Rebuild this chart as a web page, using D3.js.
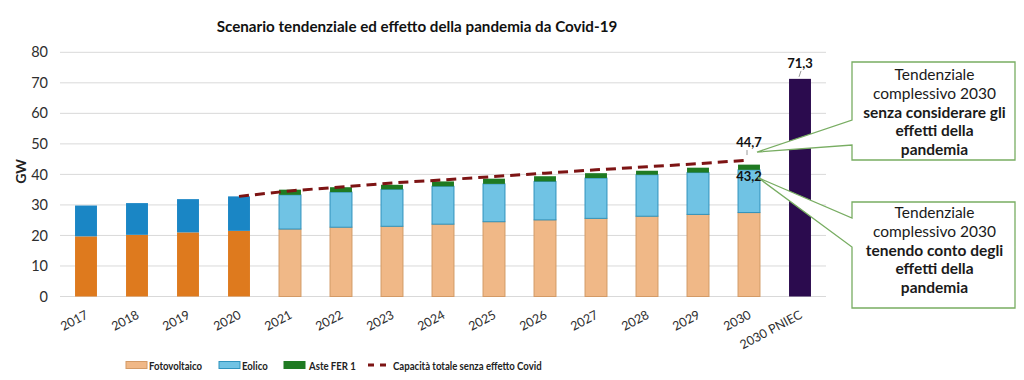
<!DOCTYPE html>
<html>
<head>
<meta charset="utf-8">
<script src="https://cdn.jsdelivr.net/npm/d3@7"></script>
<style>
  html, body { margin: 0; padding: 0; background: #ffffff; }
  svg { display: block; font-family: Lato, "Open Sans", sans-serif; }
</style>
</head>
<body>
<svg id="chart" width="1024" height="380"></svg>
<script>
// ---- data ----
const categories = ["2017","2018","2019","2020","2021","2022","2023","2024","2025","2026","2027","2028","2029","2030","2030 PNIEC"];
const historicalYears = ["2017","2018","2019","2020"];
const fotovoltaico = [19.7, 20.2, 21.0, 21.5, 22.1, 22.7, 23.0, 23.7, 24.5, 25.1, 25.6, 26.3, 26.9, 27.5, null];
const eolico       = [10.1, 10.4, 10.9, 11.3, 11.2, 11.5, 12.1, 12.4, 12.4, 12.6, 13.2, 13.6, 13.7, 14.0, null];
const asteFer1     = [0, 0, 0, 0, 1.7, 1.6, 1.5, 1.6, 1.7, 1.7, 1.6, 1.3, 1.6, 1.7, null];
const pniec        = [null, null, null, null, null, null, null, null, null, null, null, null, null, null, 71.3];
const lineYears    = ["2020","2021","2022","2023","2024","2025","2026","2027","2028","2029","2030"];
const senzaCovid   = [32.8, 34.6, 35.9, 37.2, 38.2, 39.3, 40.4, 41.5, 42.5, 43.5, 44.7];
const yTicks = [0, 10, 20, 30, 40, 50, 60, 70, 80];
const title = "Scenario tendenziale ed effetto della pandemia da Covid-19";
const yTitle = "GW";
const legendItems = ["Fotovoltaico", "Eolico", "Aste FER 1", "Capacità totale senza effetto Covid"];
const callout1 = [["Tendenziale", false], ["complessivo 2030", false], ["senza considerare gli", true], ["effetti della", true], ["pandemia", true]];
const callout2 = [["Tendenziale", false], ["complessivo 2030", false], ["tenendo conto degli", true], ["effetti della", true], ["pandemia", true]];

// ---- styles ----
const C = {
  fvHist: "#de7a1e", fvProj: "#f0b887", fvProjStroke: "#d39a66",
  eoHist: "#1a86c5", eoProj: "#70c3e4", eoProjStroke: "#2f93bd",
  aste: "#1f7a22", pniec: "#2b0b4e", line: "#7d1414",
  grid: "#d9d9d9", text: "#2e2e2e", box: "#78ad62"
};
const fmt = v => d3.format(".1f")(v).replace(".", ",");

const svg = d3.select("#chart");
const x = d3.scaleBand().domain(categories).range([60.5, 825.5]).paddingInner(0.57).paddingOuter(0.285);
const y = d3.scaleLinear().domain([0, 80]).range([296.5, 52.3]);

// title
svg.append("text").attr("x", 417).attr("y", 32).attr("text-anchor", "middle")
  .attr("font-size", 15.2).attr("font-weight", "bold").attr("fill", "#111").text(title);

// grid
svg.append("g").selectAll("line").data(yTicks).join("line")
  .attr("x1", 60).attr("x2", 826).attr("y1", d => y(d)).attr("y2", d => y(d))
  .attr("stroke", C.grid).attr("stroke-width", 1);

// y axis
const yAxis = svg.append("g").attr("transform", "translate(60,0)")
  .call(d3.axisLeft(y).tickValues(yTicks).tickSize(0).tickPadding(12));
yAxis.select(".domain").remove();
yAxis.selectAll("text").attr("font-size", 14.5).attr("fill", C.text).attr("font-family", "Lato");

svg.append("text").attr("transform", `translate(26,${y(41)}) rotate(-90)`)
  .attr("text-anchor", "middle").attr("font-size", 14).attr("font-weight", "bold").attr("fill", "#222").text(yTitle);

// x axis
const xAxis = svg.append("g").attr("transform", `translate(0,${y(0)})`)
  .call(d3.axisBottom(x).tickSize(0).tickPadding(0));
xAxis.select(".domain").remove();
xAxis.selectAll("text").attr("font-size", 12.5).attr("fill", C.text).attr("font-family", "Lato")
  .attr("text-anchor", "end").attr("dy", 0)
  .attr("transform", `translate(3,21) rotate(-28)`);

// bars
const rows = categories.map((c, i) => ({ c, fv: fotovoltaico[i], eo: eolico[i], as: asteFer1[i], pn: pniec[i], hist: historicalYears.includes(c) }));
const bars = svg.append("g");
rows.forEach(r => {
  const bx = x(r.c), bw = x.bandwidth();
  if (r.pn != null) {
    bars.append("rect").attr("x", bx).attr("width", bw).attr("y", y(r.pn)).attr("height", y(0) - y(r.pn)).attr("fill", C.pniec);
    return;
  }
  bars.append("rect").attr("x", bx).attr("width", bw).attr("y", y(r.fv)).attr("height", y(0) - y(r.fv))
    .attr("fill", r.hist ? C.fvHist : C.fvProj).attr("stroke", r.hist ? "none" : C.fvProjStroke).attr("stroke-width", 1);
  bars.append("rect").attr("x", bx).attr("width", bw).attr("y", y(r.fv + r.eo)).attr("height", y(r.fv) - y(r.fv + r.eo))
    .attr("fill", r.hist ? C.eoHist : C.eoProj).attr("stroke", r.hist ? "none" : C.eoProjStroke).attr("stroke-width", 1);
  if (r.as > 0) {
    bars.append("rect").attr("x", bx).attr("width", bw).attr("y", y(r.fv + r.eo + r.as)).attr("height", y(r.fv + r.eo) - y(r.fv + r.eo + r.as))
      .attr("fill", C.aste);
  }
});

// dashed line
const cx = c => x(c) + x.bandwidth() / 2;
const line = d3.line().x((d, i) => cx(lineYears[i])).y(d => y(d));
svg.append("path").datum(senzaCovid).attr("d", line).attr("fill", "none")
  .attr("stroke", C.line).attr("stroke-width", 3).attr("stroke-dasharray", "10,6");

// data labels
const lastIdx = categories.indexOf("2030");
const total2030 = fotovoltaico[lastIdx] + eolico[lastIdx] + asteFer1[lastIdx];
const end2030 = senzaCovid[senzaCovid.length - 1];
const pnVal = pniec[pniec.length - 1];
const lab = (tx, ty, t) => svg.append("text").attr("x", tx).attr("y", ty).attr("text-anchor", "middle")
  .attr("font-size", 13).attr("font-weight", "bold").attr("fill", "#111").text(t);
lab(cx("2030 PNIEC"), y(pnVal) - 11, fmt(pnVal));
svg.append("line").attr("x1", cx("2030 PNIEC") + 1).attr("x2", cx("2030 PNIEC") - 1)
  .attr("y1", y(pnVal) - 8).attr("y2", y(pnVal) - 2).attr("stroke", "#999");
lab(cx("2030"), y(end2030) - 13, fmt(end2030));
svg.append("line").attr("x1", cx("2030") - 2).attr("x2", cx("2030") - 2)
  .attr("y1", y(end2030) - 10).attr("y2", y(end2030) - 5).attr("stroke", "#999");
lab(cx("2030"), y(total2030) + 16, fmt(total2030));

// callouts
function callout(bx, by, bw, bh, b1, b2, tipX, tipY, lines, firstBaseline) {
  const p = `M${bx},${by} H${bx + bw} V${by + bh} H${bx} V${b2} L${tipX},${tipY} L${bx},${b1} Z`;
  svg.append("path").attr("d", p).attr("fill", "#fff").attr("stroke", C.box).attr("stroke-width", 1.3);
  lines.forEach(([t, bold], i) => {
    svg.append("text").attr("x", bx + bw / 2 + 1).attr("y", firstBaseline + i * 18.8).attr("text-anchor", "middle")
      .attr("font-size", 15.5).attr("font-weight", bold ? "bold" : "normal").attr("fill", "#1a1a1a").text(t);
  });
}
callout(852, 62, 163, 98, 120, 145, cx("2030") + 8, y(end2030) - 8, callout1, 80);
callout(852, 202, 163, 106, 218, 247, cx("2030") + 9, y(total2030) + 13, callout2, 218);

// legend
const lg = svg.append("g").attr("font-size", 12).attr("font-weight", "bold").attr("fill", "#222");
const ly = 365;
const swatch = (sx, fill, stroke) => lg.append("rect").attr("x", sx).attr("y", ly - 3.5).attr("width", 21).attr("height", 7)
  .attr("fill", fill).attr("stroke", stroke).attr("stroke-width", 1);
const ltext = (tx, t) => lg.append("text").attr("transform", `translate(${tx},${ly + 4.5}) scale(0.8,1)`).text(t);
swatch(126, C.fvProj, C.fvProjStroke);
ltext(149, legendItems[0]);
swatch(219, C.eoProj, C.eoProjStroke);
ltext(242, legendItems[1]);
swatch(284, C.aste, C.aste);
ltext(309, legendItems[2]);
lg.append("line").attr("x1", 368).attr("x2", 388).attr("y1", ly).attr("y2", ly)
  .attr("stroke", C.line).attr("stroke-width", 3).attr("stroke-dasharray", "6,6");
ltext(393, legendItems[3]);
</script>
</body>
</html>
